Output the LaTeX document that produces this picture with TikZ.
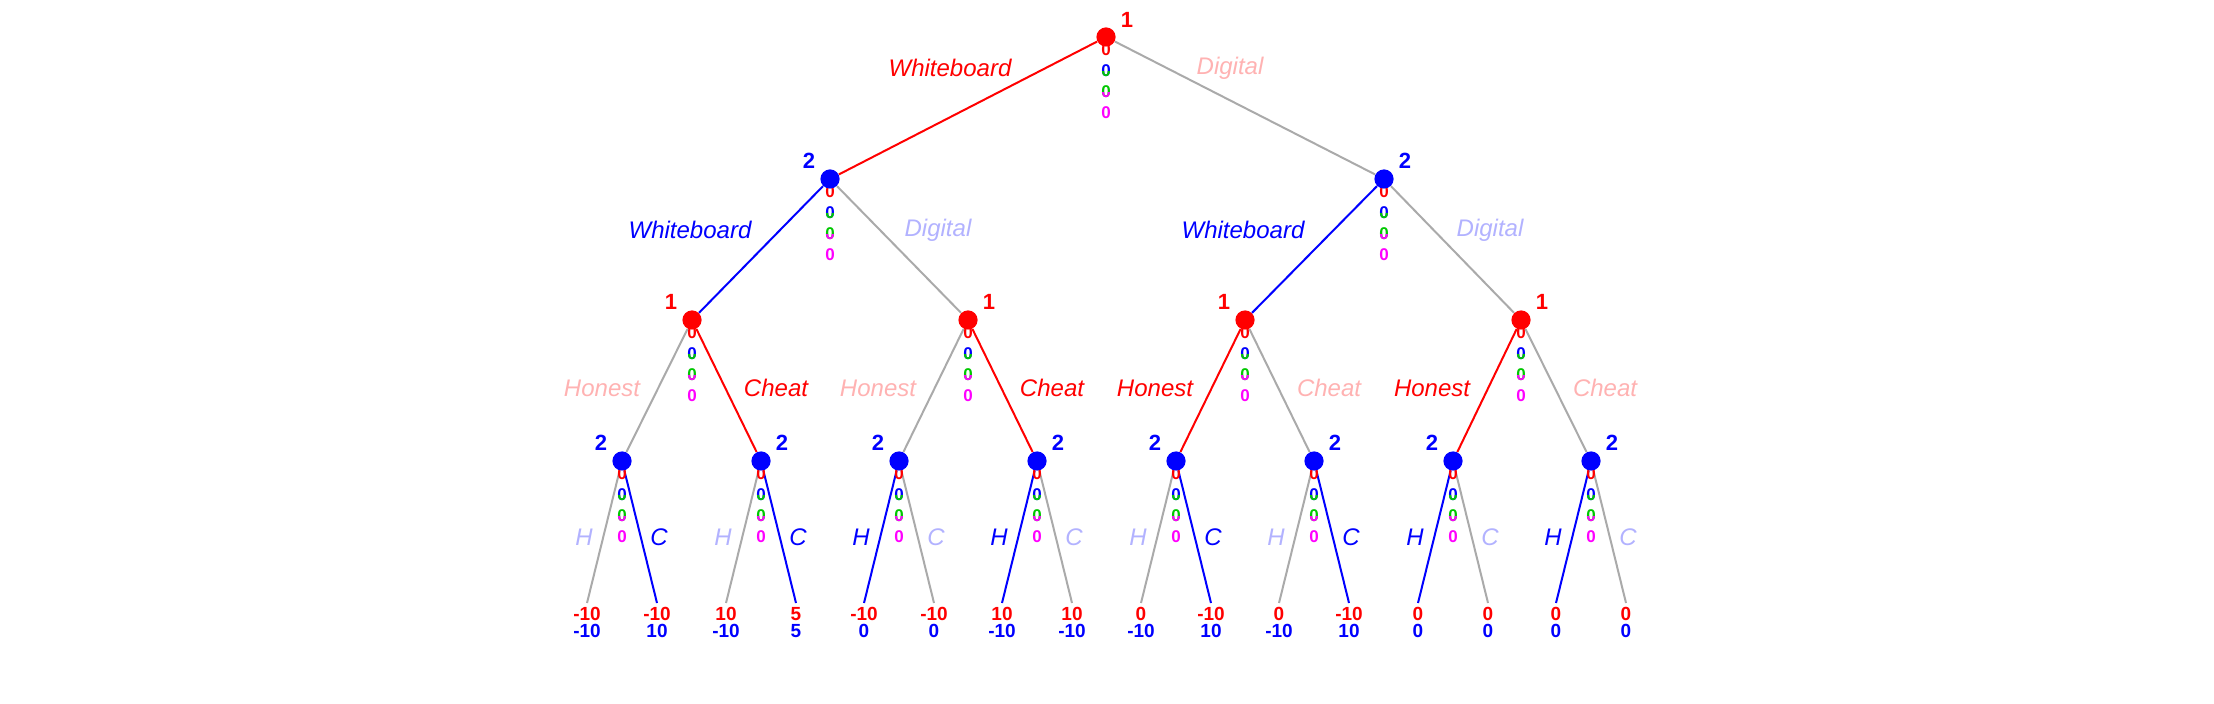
\documentclass[tikz,border=0pt]{standalone}
\usepackage{fontspec}
\setmainfont{Liberation Sans}
\usetikzlibrary{calc,backgrounds}
\definecolor{pgreen}{RGB}{0,200,0}
\definecolor{pmagenta}{RGB}{255,0,255}
\definecolor{edgegray}{RGB}{170,170,170}

% four stacked payoff zeros under a decision node
\newcommand{\zerostack}[1]{%
  \node[zero, text=red] (#1-z1) at ($(#1)+(0,13)$) {0};
  \node[zero, text=blue] (#1-z2) at ($(#1)+(0,34)$) {0};
  \node[zero, text=pgreen] (#1-z3) at ($(#1)+(0,55)$) {0};
  \node[zero, text=pmagenta] (#1-z4) at ($(#1)+(0,76)$) {0};
  \begin{scope}
    \clip ($(#1-z2)+(-8,1)$) rectangle ($(#1-z2)+(8,10)$);
    \node[zero, text=pgreen] (#1-z2b) at (#1-z2) {0};
  \end{scope}
  \begin{scope}
    \clip ($(#1-z3)+(-8,1)$) rectangle ($(#1-z3)+(8,10)$);
    \node[zero, text=pmagenta] (#1-z3b) at (#1-z3) {0};
  \end{scope}}

\begin{document}
\begin{tikzpicture}[x=0.5pt, y=-0.5pt,
	dot/.style={circle, inner sep=0pt, minimum size=9.6pt},
	play1/.style={draw=red, line width=1pt},
	play2/.style={draw=blue, line width=1pt},
	idle/.style={draw=edgegray, line width=1pt},
	act/.style={inner sep=0pt, font=\fontsize{12}{14}\selectfont\itshape},
	plr/.style={inner sep=0pt, font=\fontsize{11}{13}\selectfont\bfseries},
	pay/.style={inner sep=0pt, font=\fontsize{9.5}{11}\selectfont\bfseries},
	zero/.style={inner sep=0pt, font=\fontsize{8.5}{10}\selectfont\bfseries}]
	\useasboundingbox (0,0) rectangle (2214,704);
	% decision nodes
	\node[dot, fill=red] (r) at (1106,37) {};
	\node[dot, fill=blue] (a) at (830,179) {};
	\node[dot, fill=blue] (b) at (1384,179) {};
	\node[dot, fill=red] (aa) at (692,320) {};
	\node[dot, fill=red] (ab) at (968,320) {};
	\node[dot, fill=red] (ba) at (1245,320) {};
	\node[dot, fill=red] (bb) at (1521,320) {};
	\node[dot, fill=blue] (aaa) at (622,461) {};
	\node[dot, fill=blue] (aab) at (761,461) {};
	\node[dot, fill=blue] (aba) at (899,461) {};
	\node[dot, fill=blue] (abb) at (1037,461) {};
	\node[dot, fill=blue] (baa) at (1176,461) {};
	\node[dot, fill=blue] (bab) at (1314,461) {};
	\node[dot, fill=blue] (bba) at (1453,461) {};
	\node[dot, fill=blue] (bbb) at (1591,461) {};
	% leaves
	\coordinate (aaa-h) at (587,603);
	\coordinate (aaa-c) at (657,603);
	\coordinate (aab-h) at (726,603);
	\coordinate (aab-c) at (796,603);
	\coordinate (aba-h) at (864,603);
	\coordinate (aba-c) at (934,603);
	\coordinate (abb-h) at (1002,603);
	\coordinate (abb-c) at (1072,603);
	\coordinate (baa-h) at (1141,603);
	\coordinate (baa-c) at (1211,603);
	\coordinate (bab-h) at (1279,603);
	\coordinate (bab-c) at (1349,603);
	\coordinate (bba-h) at (1418,603);
	\coordinate (bba-c) at (1488,603);
	\coordinate (bbb-h) at (1556,603);
	\coordinate (bbb-c) at (1626,603);
	\begin{scope}[on background layer]
	\draw[play1] (r) -- (a);
	\draw[idle] (r) -- (b);
	\draw[play2] (a) -- (aa);
	\draw[idle] (a) -- (ab);
	\draw[play2] (b) -- (ba);
	\draw[idle] (b) -- (bb);
	\draw[idle] (aa) -- (aaa);
	\draw[play1] (aa) -- (aab);
	\draw[idle] (ab) -- (aba);
	\draw[play1] (ab) -- (abb);
	\draw[play1] (ba) -- (baa);
	\draw[idle] (ba) -- (bab);
	\draw[play1] (bb) -- (bba);
	\draw[idle] (bb) -- (bbb);
	\draw[idle] (aaa) -- (aaa-h);
	\draw[play2] (aaa) -- (aaa-c);
	\draw[idle] (aab) -- (aab-h);
	\draw[play2] (aab) -- (aab-c);
	\draw[play2] (aba) -- (aba-h);
	\draw[idle] (aba) -- (aba-c);
	\draw[play2] (abb) -- (abb-h);
	\draw[idle] (abb) -- (abb-c);
	\draw[idle] (baa) -- (baa-h);
	\draw[play2] (baa) -- (baa-c);
	\draw[idle] (bab) -- (bab-h);
	\draw[play2] (bab) -- (bab-c);
	\draw[play2] (bba) -- (bba-h);
	\draw[idle] (bba) -- (bba-c);
	\draw[play2] (bbb) -- (bbb-h);
	\draw[idle] (bbb) -- (bbb-c);
	\zerostack{r}
	\zerostack{a}
	\zerostack{b}
	\zerostack{aa}
	\zerostack{ab}
	\zerostack{ba}
	\zerostack{bb}
	\zerostack{aaa}
	\zerostack{aab}
	\zerostack{aba}
	\zerostack{abb}
	\zerostack{baa}
	\zerostack{bab}
	\zerostack{bba}
	\zerostack{bbb}
	\end{scope}
	% players
	\node[plr, text=red] (r-pl) at (1127,20) {1};
	\node[plr, text=blue] (a-pl) at (809,161) {2};
	\node[plr, text=blue] (b-pl) at (1405,161) {2};
	\node[plr, text=red] (aa-pl) at (671,302) {1};
	\node[plr, text=red] (ab-pl) at (989,302) {1};
	\node[plr, text=red] (ba-pl) at (1224,302) {1};
	\node[plr, text=red] (bb-pl) at (1542,302) {1};
	\node[plr, text=blue] (aaa-pl) at (601,443) {2};
	\node[plr, text=blue] (aab-pl) at (782,443) {2};
	\node[plr, text=blue] (aba-pl) at (878,443) {2};
	\node[plr, text=blue] (abb-pl) at (1058,443) {2};
	\node[plr, text=blue] (baa-pl) at (1155,443) {2};
	\node[plr, text=blue] (bab-pl) at (1335,443) {2};
	\node[plr, text=blue] (bba-pl) at (1432,443) {2};
	\node[plr, text=blue] (bbb-pl) at (1612,443) {2};
	% actions
	\node[act, text=red] (r-w) at (950,68) {Whiteboard};
	\node[act, text=red!30] (r-d) at (1230,68) {Digital};
	\node[act, text=blue] (a-w) at (690,230) {Whiteboard};
	\node[act, text=blue!30] (a-d) at (938,230) {Digital};
	\node[act, text=blue] (b-w) at (1243,230) {Whiteboard};
	\node[act, text=blue!30] (b-d) at (1490,230) {Digital};
	\node[act, text=red!30] (aa-h) at (602,388) {Honest};
	\node[act, text=red] (aa-c) at (776,388) {Cheat};
	\node[act, text=red!30] (ab-h) at (878,388) {Honest};
	\node[act, text=red] (ab-c) at (1052,388) {Cheat};
	\node[act, text=red] (ba-h) at (1155,388) {Honest};
	\node[act, text=red!30] (ba-c) at (1329,388) {Cheat};
	\node[act, text=red] (bb-h) at (1432,388) {Honest};
	\node[act, text=red!30] (bb-c) at (1605,388) {Cheat};
	\node[act, text=blue!30] (aaa-hl) at (584,537) {H};
	\node[act, text=blue] (aaa-cl) at (659,537) {C};
	\node[act, text=blue!30] (aab-hl) at (723,537) {H};
	\node[act, text=blue] (aab-cl) at (798,537) {C};
	\node[act, text=blue] (aba-hl) at (861,537) {H};
	\node[act, text=blue!30] (aba-cl) at (936,537) {C};
	\node[act, text=blue] (abb-hl) at (999,537) {H};
	\node[act, text=blue!30] (abb-cl) at (1074,537) {C};
	\node[act, text=blue!30] (baa-hl) at (1138,537) {H};
	\node[act, text=blue] (baa-cl) at (1213,537) {C};
	\node[act, text=blue!30] (bab-hl) at (1276,537) {H};
	\node[act, text=blue] (bab-cl) at (1351,537) {C};
	\node[act, text=blue] (bba-hl) at (1415,537) {H};
	\node[act, text=blue!30] (bba-cl) at (1490,537) {C};
	\node[act, text=blue] (bbb-hl) at (1553,537) {H};
	\node[act, text=blue!30] (bbb-cl) at (1628,537) {C};
	% payoffs
	\node[pay, text=red] (aaa-h1) at (587,614) {-10};
	\node[pay, text=blue] (aaa-h2) at (587,631) {-10};
	\node[pay, text=red] (aaa-c1) at (657,614) {-10};
	\node[pay, text=blue] (aaa-c2) at (657,631) {10};
	\node[pay, text=red] (aab-h1) at (726,614) {10};
	\node[pay, text=blue] (aab-h2) at (726,631) {-10};
	\node[pay, text=red] (aab-c1) at (796,614) {5};
	\node[pay, text=blue] (aab-c2) at (796,631) {5};
	\node[pay, text=red] (aba-h1) at (864,614) {-10};
	\node[pay, text=blue] (aba-h2) at (864,631) {0};
	\node[pay, text=red] (aba-c1) at (934,614) {-10};
	\node[pay, text=blue] (aba-c2) at (934,631) {0};
	\node[pay, text=red] (abb-h1) at (1002,614) {10};
	\node[pay, text=blue] (abb-h2) at (1002,631) {-10};
	\node[pay, text=red] (abb-c1) at (1072,614) {10};
	\node[pay, text=blue] (abb-c2) at (1072,631) {-10};
	\node[pay, text=red] (baa-h1) at (1141,614) {0};
	\node[pay, text=blue] (baa-h2) at (1141,631) {-10};
	\node[pay, text=red] (baa-c1) at (1211,614) {-10};
	\node[pay, text=blue] (baa-c2) at (1211,631) {10};
	\node[pay, text=red] (bab-h1) at (1279,614) {0};
	\node[pay, text=blue] (bab-h2) at (1279,631) {-10};
	\node[pay, text=red] (bab-c1) at (1349,614) {-10};
	\node[pay, text=blue] (bab-c2) at (1349,631) {10};
	\node[pay, text=red] (bba-h1) at (1418,614) {0};
	\node[pay, text=blue] (bba-h2) at (1418,631) {0};
	\node[pay, text=red] (bba-c1) at (1488,614) {0};
	\node[pay, text=blue] (bba-c2) at (1488,631) {0};
	\node[pay, text=red] (bbb-h1) at (1556,614) {0};
	\node[pay, text=blue] (bbb-h2) at (1556,631) {0};
	\node[pay, text=red] (bbb-c1) at (1626,614) {0};
	\node[pay, text=blue] (bbb-c2) at (1626,631) {0};
\end{tikzpicture}
\end{document}
